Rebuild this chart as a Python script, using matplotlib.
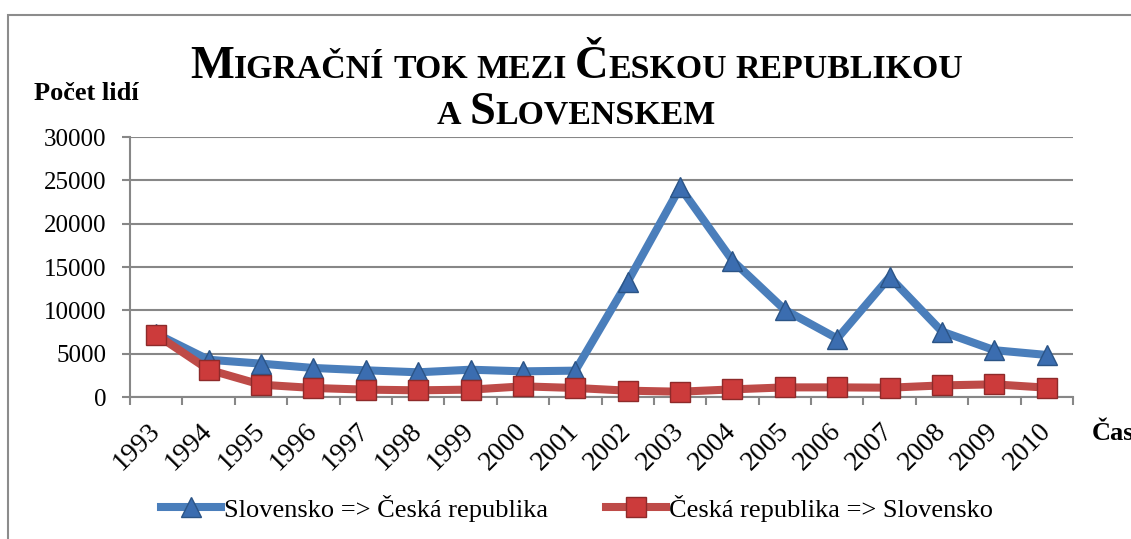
import matplotlib
matplotlib.use('Agg')
import matplotlib.pyplot as plt
import numpy as np
from matplotlib.patches import Rectangle

# ---------------- data ----------------
years = [str(y) for y in range(1993, 2011)]
sk_to_cz = [7300, 4300, 3850, 3350, 3080, 2850, 3150, 2960, 3040,
            13300, 24200, 15750, 10050, 6750, 13850, 7550, 5400, 4850]
cz_to_sk = [7200, 3150, 1420, 1040, 850, 770, 850, 1230, 1040,
            730, 610, 880, 1110, 1110, 1075, 1340, 1460, 1075]
series_labels = ['Slovensko => Česká republika', 'Česká republika => Slovensko']
y_label = 'Počet lidí'
x_label = 'Čas'
yticks = [0, 5000, 10000, 15000, 20000, 25000, 30000]

SERIF = 'Liberation Serif'
W, H = 1131, 539
fig = plt.figure(figsize=(W / 100, H / 100), dpi=100)


def fx(px):
    return px / W


def fy(py):
    return 1 - py / H


# outer chart border (extends past right/bottom edge)
fig.patches.append(Rectangle((fx(8), fy(600)), fx(1300), fy(15) - fy(600),
                             transform=fig.transFigure, fill=False,
                             ec='#8C8C8C', lw=1.5))

ax = fig.add_axes([fx(130), fy(397), fx(1073) - fx(130), fy(137) - fy(397)])
x = np.arange(len(years))
ax.plot(x, sk_to_cz, color='#4A7EBB', lw=5.8, marker='^', ms=15,
        mfc='#3B6DB0', mec='#2B5486', mew=1, solid_joinstyle='round',
        label=series_labels[0], zorder=3, clip_on=False)
ax.plot(x, cz_to_sk, color='#BE4B48', lw=5.8, marker='s', ms=14,
        mfc='#CC3B3B', mec='#8E2A2A', mew=1, solid_joinstyle='round',
        label=series_labels[1], zorder=4, clip_on=False)

ax.set_xlim(-0.5, len(years) - 0.5)
ax.set_ylim(0, 30000)
ax.set_yticks(yticks)
ax.set_yticklabels([str(v) for v in yticks], fontsize=18, family=SERIF)
ax.yaxis.grid(True, color='#878787', lw=1.5)
ax.set_axisbelow(True)
for s in ['top', 'right']:
    ax.spines[s].set_visible(False)
for s in ['left', 'bottom']:
    ax.spines[s].set_color('#878787')
    ax.spines[s].set_linewidth(1.5)

ax.set_xticks(np.arange(-0.5, len(years), 1))
ax.set_xticklabels([])
ax.set_xticks(x, minor=True)
ax.set_xticklabels(years, minor=True, rotation=45, ha='right', va='center',
                   rotation_mode='anchor', fontsize=20, family=SERIF)
ax.tick_params(axis='x', which='minor', length=0, pad=22)
ax.tick_params(axis='both', which='major', length=6, color='#878787', width=1.5)
ax.tick_params(axis='y', which='major', pad=11)

fig.legend(loc='center', bbox_to_anchor=(fx(577), fy(508)), ncol=2,
           frameon=False, prop={'family': SERIF, 'size': 19},
           handlelength=2.27, handletextpad=0.1, columnspacing=2.2)

fig.text(fx(34), fy(100), y_label, fontsize=19, fontweight='bold',
         family=SERIF, va='baseline', ha='left')
fig.text(fx(1092), fy(440), x_label, fontsize=19, fontweight='bold',
         family=SERIF, va='baseline', ha='left')

# ---------------- small-caps title ----------------
title_lines = [
    [[('M', 1), ('IGRAČNÍ', 0)], [('TOK', 0)], [('MEZI', 0)],
     [('Č', 1), ('ESKOU', 0)], [('REPUBLIKOU', 0)]],
    [[('A', 0)], [('S', 1), ('LOVENSKEM', 0)]],
]
BIG, SMALL = 33.5, 24.4
renderer = fig.canvas.get_renderer()


def draw_line(words, cx, base_py):
    items = []
    for wi, word in enumerate(words):
        for seg, big in word:
            t = fig.text(0, fy(base_py), seg, fontsize=BIG if big else SMALL,
                         fontweight='bold', family=SERIF, va='baseline',
                         ha='left')
            items.append((t, wi))
    space = 0.25 * SMALL * 100 / 72
    widths = [t.get_window_extent(renderer).width for t, _ in items]
    total = sum(widths) + space * (len(words) - 1)
    xcur = cx - total / 2
    prev_w = 0
    for (t, wi), w in zip(items, widths):
        if wi != prev_w:
            xcur += space
            prev_w = wi
        t.set_x(fx(xcur))
        xcur += w
    return total


draw_line(title_lines[0], 577, 78)
draw_line(title_lines[1], 576, 124)

fig.savefig('out.png', dpi=100)
